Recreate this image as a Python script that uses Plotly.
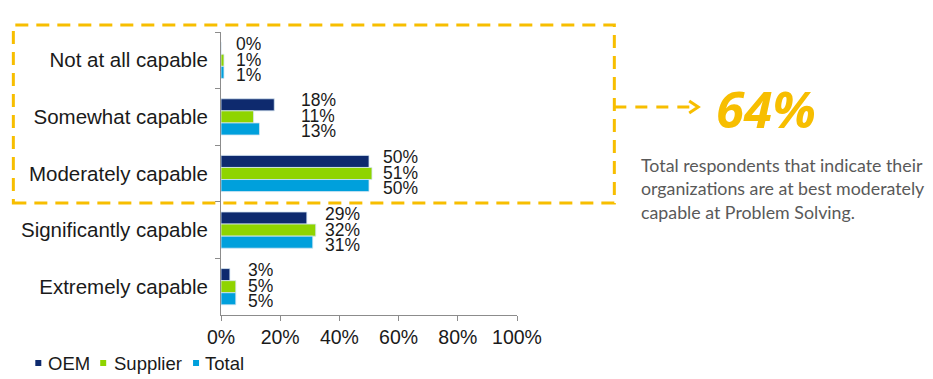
import plotly.graph_objects as go

categories = ["Not at all capable", "Somewhat capable", "Moderately capable",
              "Significantly capable", "Extremely capable"]
oem = [0, 18, 50, 29, 3]
supplier = [1, 11, 51, 32, 5]
total = [1, 13, 50, 31, 5]
series_names = ["OEM", "Supplier", "Total"]
x_ticks = [0, 20, 40, 60, 80, 100]
x_tick_labels = ["0%", "20%", "40%", "60%", "80%", "100%"]
callout_value = "64%"
callout_lines = ["Total respondents that indicate their",
                 "organizations are at best moderately",
                 "capable at Problem Solving."]

colors = ["#0E2A6E", "#8FD400", "#00A0DC"]
YELLOW = "#F7BE00"

# page body has an 8px margin; the figure sits at (8, 8)
OFF = 8
W, H = 917, 371
PLOT_L, PLOT_R, PLOT_T, PLOT_B = 221, 517.5, 32, 315   # page coordinates
L = PLOT_L - OFF
T = PLOT_T - OFF
R = W - (PLOT_R - OFF)
B = H - (PLOT_B - OFF)
PW = PLOT_R - PLOT_L
PH = PLOT_B - PLOT_T


def px(xp):
    return (xp - PLOT_L) / PW


def py(yp):
    return (PLOT_B - yp) / PH


fig = go.Figure()
for name, vals, col in zip(series_names, [oem, supplier, total], colors):
    fig.add_trace(go.Bar(
        y=categories, x=vals, name=name, orientation="h",
        marker=dict(color=col, line=dict(color="#D6E6F2", width=0.8)),
        hoverinfo="skip", showlegend=False))

annotations = []
label_xshift = [11, 26, 10, 8, 11]
yshifts = [17, 1, -14]
for ci, cat in enumerate(categories):
    group = [oem[ci], supplier[ci], total[ci]]
    gmax = max(group)
    for si, v in enumerate(group):
        annotations.append(dict(
            x=gmax, y=cat, xref="x", yref="y", text=f"{v}%", showarrow=False,
            xanchor="left", yanchor="middle", xshift=label_xshift[ci],
            yshift=yshifts[si], height=15, valign="middle", borderpad=0,
            font=dict(family="Liberation Sans, Arial", size=17.5, color="#1A1A1A")))

shapes = []
# manual legend (page coords)
legend_sq = [35, 100, 193]
legend_tx = [46, 112, 203]
LEG_Y = 363
for name, col, sx, tx in zip(series_names, colors, legend_sq, legend_tx):
    shapes.append(dict(type="rect", xref="paper", yref="paper",
                       x0=px(sx), x1=px(sx + 6), y0=py(LEG_Y + 3), y1=py(LEG_Y - 3),
                       fillcolor=col, line=dict(width=0)))
    annotations.append(dict(
        x=px(tx), y=py(LEG_Y), xref="paper", yref="paper", text=name,
        showarrow=False, xanchor="left", yanchor="middle",
        font=dict(family="Liberation Sans, Arial", size=18.5, color="#1A1A1A")))

annotations.append(dict(
    x=px(767), y=py(108), xref="paper", yref="paper", text=f"<b><i>{callout_value}</i></b>",
    showarrow=False, xanchor="center", yanchor="middle",
    font=dict(family="Open Sans", size=51, color=YELLOW)))
for i, line in enumerate(callout_lines):
    annotations.append(dict(
        x=px(640), y=py(165 + i * 23.5), xref="paper", yref="paper", text=line,
        showarrow=False, xanchor="left", yanchor="middle",
        font=dict(family="Lato", size=17.8, color="#595959")))

shapes += [
    dict(type="rect", xref="paper", yref="paper",
         x0=px(13), x1=px(615), y0=py(203), y1=py(25),
         line=dict(color=YELLOW, width=3, dash="13px,8px"), layer="above"),
    dict(type="line", xref="paper", yref="paper",
         x0=px(615), x1=px(696), y0=py(107), y1=py(107),
         line=dict(color=YELLOW, width=3, dash="12px,9px")),
    dict(type="path", xref="paper", yref="paper",
         path=f"M {px(690)},{py(101)} L {px(699)},{py(107)} L {px(690)},{py(113)}",
         line=dict(color=YELLOW, width=3)),
]

fig.update_layout(
    width=W, height=H,
    margin=dict(l=L, r=R, t=T, b=B, autoexpand=False),
    paper_bgcolor="white", plot_bgcolor="white",
    barmode="group", bargap=0.36, bargroupgap=0.0,
    font=dict(family="Liberation Sans, Arial", color="#1A1A1A"),
    showlegend=False,
    xaxis=dict(range=[0, 100], tickvals=x_ticks, ticktext=x_tick_labels,
               showgrid=False, zeroline=False, showline=True, linecolor="#8C8C8C",
               ticks="outside", ticklen=5, tickcolor="#8C8C8C",
               tickfont=dict(size=19.5), automargin=False),
    yaxis=dict(autorange="reversed", showgrid=False, zeroline=False,
               showline=True, linecolor="#8C8C8C", ticks="outside", ticklen=5,
               tickcolor="#8C8C8C", tickson="boundaries", ticklabelstandoff=8,
               tickfont=dict(size=20.5), automargin=False),
    annotations=annotations, shapes=shapes,
)

fig.write_html("out.html")
